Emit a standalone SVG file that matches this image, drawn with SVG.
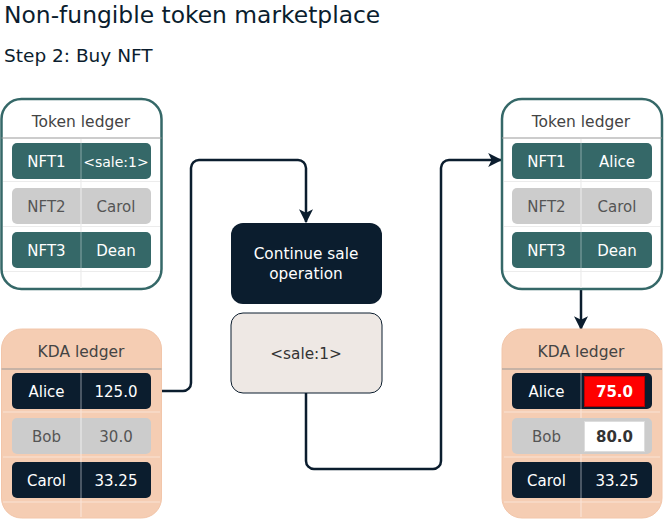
<svg xmlns="http://www.w3.org/2000/svg" width="672" height="519" viewBox="0 0 672 519">
<defs>
<style>
text{font-family:"DejaVu Sans","Liberation Sans",sans-serif;text-anchor:middle}
.title{font-size:23.4px;fill:#0b1d2e;text-anchor:start}
.sub{font-size:18.5px;fill:#0b1d2e;text-anchor:start}
.hdr{font-size:15.5px;fill:#444}
.tok{fill:#fff;stroke:#356868;stroke-width:2.5}
.kda{fill:#f5cdb3;stroke:#f2c6aa;stroke-width:1}
.hl{stroke:#9a9a9a;stroke-width:1.2}
.gl{stroke:#ececec;stroke-width:1.2}
.glk{stroke:#fae3d6;stroke-width:1.2}
.teal{fill:#356868}
.grey{fill:#cccccc}
.navy{fill:#0b1d2e}
.w{font-size:15px;fill:#fff}
.g{font-size:15px;fill:#555}
.conn{fill:none;stroke:#0b1d2e;stroke-width:2.5}
</style>
<marker id="arr" markerUnits="userSpaceOnUse" markerWidth="14" markerHeight="14" viewBox="0 0 12 12" refX="11" refY="6" orient="auto">
<path d="M0,0 L12,6 L0,12 L3,6 z" fill="#0b1d2e"/>
</marker>
</defs>
<rect width="672" height="519" fill="#fff"/>
<text class="title" x="4" y="23">Non-fungible token marketplace</text>
<text class="sub" x="4" y="62">Step 2: Buy NFT</text>

<g id="connectors">
<path class="conn" d="M162,391 H183 A8,8 0 0 0 191,383 V168 A8,8 0 0 1 199,160 H298 A8,8 0 0 1 306,168 V222" marker-end="url(#arr)"/>
<path class="conn" d="M306,393 V461 A8,8 0 0 0 314,469 H433 A8,8 0 0 0 441,461 V168 A8,8 0 0 1 449,160 H501" marker-end="url(#arr)"/>
<path class="conn" d="M581,290 V329" marker-end="url(#arr)"/>
</g>

<g id="token-ledger-left">
<rect class="tok" x="1.5" y="99" width="160" height="190" rx="20"/>
<text class="hdr" x="81" y="127">Token ledger</text>
<line class="hl" x1="1.5" y1="138" x2="161.5" y2="138"/>
<line class="gl" x1="3" y1="181.5" x2="160" y2="181.5"/>
<line class="gl" x1="3" y1="226.5" x2="160" y2="226.5"/>
<line class="gl" x1="3" y1="271.5" x2="160" y2="271.5"/>
<line class="gl" x1="81" y1="139" x2="81" y2="288"/>
<rect class="teal" x="12" y="143" width="139" height="36" rx="5"/>
<rect class="grey" x="12" y="188" width="139" height="36" rx="5"/>
<rect class="teal" x="12" y="232" width="139" height="36" rx="5"/>
<line x1="81" y1="143" x2="81" y2="179" stroke="#8aa7a7" stroke-width="1"/>
<line x1="81" y1="188" x2="81" y2="224" stroke="#eee" stroke-width="1"/>
<line x1="81" y1="232" x2="81" y2="268" stroke="#8aa7a7" stroke-width="1"/>
<text class="w" x="46.5" y="166.5">NFT1</text>
<text class="w" x="116" y="166.5" style="font-size:14px">&lt;sale:1&gt;</text>
<text class="g" x="46.5" y="211.5">NFT2</text>
<text class="g" x="116" y="211.5">Carol</text>
<text class="w" x="46.5" y="255.5">NFT3</text>
<text class="w" x="116" y="255.5">Dean</text>
</g>

<g id="kda-ledger-left">
<rect class="kda" x="1.5" y="329" width="160" height="189" rx="20"/>
<text class="hdr" x="81" y="357">KDA ledger</text>
<line class="hl" x1="1.5" y1="369" x2="161.5" y2="369"/>
<line class="glk" x1="3" y1="412" x2="160" y2="412"/>
<line class="glk" x1="3" y1="457" x2="160" y2="457"/>
<line class="glk" x1="3" y1="502" x2="160" y2="502"/>
<line class="glk" x1="81" y1="370" x2="81" y2="517"/>
<rect class="navy" x="12" y="373" width="139" height="36" rx="5"/>
<rect class="grey" x="12" y="418" width="139" height="36" rx="5"/>
<rect class="navy" x="12" y="462" width="139" height="36" rx="5"/>
<line x1="81" y1="373" x2="81" y2="409" stroke="#8a929c" stroke-width="1"/>
<line x1="81" y1="418" x2="81" y2="454" stroke="#eee" stroke-width="1"/>
<line x1="81" y1="462" x2="81" y2="498" stroke="#8a929c" stroke-width="1"/>
<text class="w" x="46.5" y="396.5">Alice</text>
<text class="w" x="116" y="396.5">125.0</text>
<text class="g" x="46.5" y="441.5">Bob</text>
<text class="g" x="116" y="441.5">30.0</text>
<text class="w" x="46.5" y="485.5">Carol</text>
<text class="w" x="116" y="485.5">33.25</text>
</g>

<g id="continue-sale">
<rect class="navy" x="231" y="223" width="151" height="81" rx="12"/>
<text x="306" y="259" style="font-size:15.3px;fill:#fff">Continue sale</text>
<text x="306" y="279" style="font-size:15.3px;fill:#fff">operation</text>
</g>

<g id="sale-1">
<rect x="231" y="313" width="151" height="80" rx="12" fill="#eee8e4" stroke="#0b1d2e" stroke-width="1"/>
<text x="306" y="359" style="font-size:15.3px;fill:#333">&lt;sale:1&gt;</text>
</g>

<g id="token-ledger-right">
<rect class="tok" x="502" y="99" width="160" height="190" rx="20"/>
<text class="hdr" x="581" y="127">Token ledger</text>
<line class="hl" x1="502" y1="138" x2="662" y2="138"/>
<line class="gl" x1="504" y1="181.5" x2="660" y2="181.5"/>
<line class="gl" x1="504" y1="226.5" x2="660" y2="226.5"/>
<line class="gl" x1="504" y1="271.5" x2="660" y2="271.5"/>
<line class="gl" x1="581" y1="139" x2="581" y2="288"/>
<rect class="teal" x="512" y="143" width="140" height="36" rx="5"/>
<rect class="grey" x="512" y="188" width="140" height="36" rx="5"/>
<rect class="teal" x="512" y="232" width="140" height="36" rx="5"/>
<line x1="581" y1="143" x2="581" y2="179" stroke="#8aa7a7" stroke-width="1"/>
<line x1="581" y1="188" x2="581" y2="224" stroke="#eee" stroke-width="1"/>
<line x1="581" y1="232" x2="581" y2="268" stroke="#8aa7a7" stroke-width="1"/>
<text class="w" x="546.5" y="166.5">NFT1</text>
<text class="w" x="617" y="166.5">Alice</text>
<text class="g" x="546.5" y="211.5">NFT2</text>
<text class="g" x="617" y="211.5">Carol</text>
<text class="w" x="546.5" y="255.5">NFT3</text>
<text class="w" x="617" y="255.5">Dean</text>
</g>

<g id="kda-ledger-right">
<rect class="kda" x="502" y="329" width="160" height="189" rx="20"/>
<text class="hdr" x="581" y="357">KDA ledger</text>
<line class="hl" x1="502" y1="369" x2="662" y2="369"/>
<line class="glk" x1="504" y1="412" x2="660" y2="412"/>
<line class="glk" x1="504" y1="457" x2="660" y2="457"/>
<line class="glk" x1="504" y1="502" x2="660" y2="502"/>
<line class="glk" x1="581" y1="370" x2="581" y2="517"/>
<rect class="navy" x="512" y="373" width="140" height="36" rx="5"/>
<rect class="grey" x="512" y="418" width="140" height="36" rx="5"/>
<rect class="navy" x="512" y="462" width="140" height="36" rx="5"/>
<line x1="581" y1="373" x2="581" y2="409" stroke="#8a929c" stroke-width="1"/>
<line x1="581" y1="462" x2="581" y2="498" stroke="#8a929c" stroke-width="1"/>
<rect x="584.5" y="376.5" width="60" height="30" fill="#ff0000" stroke="#b80000" stroke-width="1"/>
<rect x="584.5" y="421.5" width="60" height="30" fill="#ffffff" stroke="#dddddd" stroke-width="1"/>
<text class="w" x="546.5" y="396.5">Alice</text>
<text x="614.5" y="396.5" style="font-size:15px;fill:#fff;font-weight:bold">75.0</text>
<text class="g" x="546.5" y="441.5">Bob</text>
<text x="614.5" y="441.5" style="font-size:15px;fill:#333;font-weight:bold">80.0</text>
<text class="w" x="546.5" y="485.5">Carol</text>
<text class="w" x="617" y="485.5">33.25</text>
</g>
</svg>
